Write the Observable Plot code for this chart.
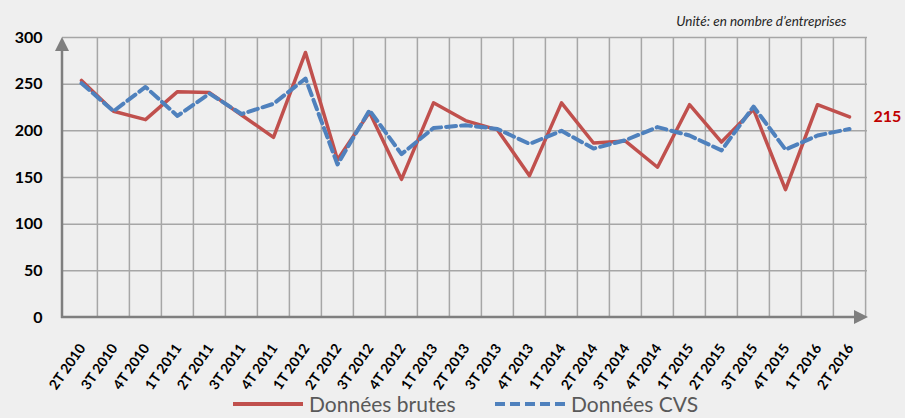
<!DOCTYPE html>
<html>
<head>
<meta charset="utf-8">
<script src="https://cdn.jsdelivr.net/npm/d3@7"></script>
<script src="https://cdn.jsdelivr.net/npm/@observablehq/plot@0.6"></script>
<style>
  html, body { margin: 0; padding: 0; background: #efefef; width: 905px; height: 418px; overflow: hidden; }
  #wrap { position: relative; width: 905px; height: 418px; font-family: Lato, "Open Sans", sans-serif; }
  .leg { position: absolute; top: 392px; display: flex; align-items: center; font-size: 21px; line-height: 24px; color: #595959; white-space: nowrap; }
  .leg svg { margin-right: 6px; }
</style>
</head>
<body>
<div id="wrap"></div>
<script>
const quarters = ["2T 2010","3T 2010","4T 2010","1T 2011","2T 2011","3T 2011","4T 2011","1T 2012","2T 2012","3T 2012","4T 2012","1T 2013","2T 2013","3T 2013","4T 2013","1T 2014","2T 2014","3T 2014","4T 2014","1T 2015","2T 2015","3T 2015","4T 2015","1T 2016","2T 2016"];
const brutes = [254, 221, 212, 242, 241, 217, 193, 284, 169, 220, 148, 230, 211, 201, 152, 230, 187, 189, 161, 228, 188, 223, 137, 228, 215];
const cvs    = [251, 221, 247, 216, 240, 218, 229, 256, 164, 222, 175, 203, 206, 202, 186, 200, 181, 190, 204, 195, 179, 226, 180, 195, 202];
const yTicks = [0, 50, 100, 150, 200, 250, 300];
const legendLabels = ["Données brutes", "Données CVS"];
const unitText = "Unité: en nombre d’entreprises";

const rows = quarters.map((q, i) => ({q, brutes: brutes[i], cvs: cvs[i]}));
const last = rows[rows.length - 1];

const red = "#c0504d", blue = "#4f81bd", grid = "#a6a6a6", axisCol = "#7f7f7f";
const W = 905, H = 392, mL = 62, mR = 38, mT = 37, mB = 75;
const half = (W - mL - mR) / quarters.length / 2;

function axesMark(index, scales, values, dims) {
  const g = d3.create("svg:g");
  const x0 = dims.marginLeft, y0 = dims.height - dims.marginBottom;
  const top = dims.marginTop, right = dims.width - dims.marginRight;
  g.append("line").attr("x1", x0).attr("x2", x0).attr("y1", y0 + 1).attr("y2", top + 12)
    .attr("stroke", axisCol).attr("stroke-width", 2.5);
  g.append("path").attr("d", `M${x0},${top} L${x0 - 7},${top + 14} L${x0 + 7},${top + 14} Z`).attr("fill", axisCol);
  g.append("line").attr("x1", x0 - 1).attr("x2", right - 10).attr("y1", y0).attr("y2", y0)
    .attr("stroke", axisCol).attr("stroke-width", 2.5);
  g.append("path").attr("d", `M${right + 1},${y0} L${right - 13},${y0 - 7} L${right - 13},${y0 + 7} Z`).attr("fill", axisCol);
  return g.node();
}

const chart = Plot.plot({
  width: W, height: H,
  marginLeft: mL, marginRight: mR, marginTop: mT, marginBottom: mB,
  style: {background: "transparent", fontFamily: "Lato, 'Open Sans', sans-serif", overflow: "visible"},
  x: {type: "point", domain: quarters, padding: 0.5, label: null},
  y: {domain: [0, 300], label: null},
  marks: [
    Plot.ruleY(yTicks.slice(1), {stroke: grid, strokeWidth: 1.5}),
    Plot.ruleX(quarters.slice(1), {stroke: grid, strokeWidth: 1.5, dx: -half}),
    Plot.ruleX([quarters[quarters.length - 1]], {stroke: grid, strokeWidth: 1.5, dx: half}),
    Plot.axisY({ticks: yTicks, tickSize: 0, tickPadding: 20, fontSize: 16, fontWeight: "bold", fill: "#000"}),
    Plot.axisX({tickSize: 0, tickRotate: -55, tickPadding: 28, fontSize: 14, fontWeight: "bold", fill: "#000", dx: 1}),
    axesMark,
    Plot.line(rows, {x: "q", y: "brutes", stroke: red, strokeWidth: 3.5}),
    Plot.line(rows, {x: "q", y: "cvs", stroke: blue, strokeWidth: 4, strokeDasharray: "10,5"}),
    Plot.text([last], {x: "q", y: "brutes", text: d => String(d.brutes), dx: 24, textAnchor: "start", fontSize: 16, fontWeight: "bold", fill: "#c00000"}),
    Plot.text([unitText], {frameAnchor: "top-right", dx: -21, dy: -12, lineAnchor: "bottom", textAnchor: "end", fontSize: 13.5, fontStyle: "italic", fill: "#262626"})
  ]
});

const wrap = document.getElementById("wrap");
wrap.appendChild(chart);

function legendItem(left, label, color, dash) {
  const d = document.createElement("div");
  d.className = "leg";
  d.style.left = left + "px";
  d.innerHTML = `<svg width="70" height="8"><line x1="0" x2="70" y1="4" y2="4" stroke="${color}" stroke-width="4" ${dash ? 'stroke-dasharray="10,5"' : ""}/></svg><span>${label}</span>`;
  wrap.appendChild(d);
}
legendItem(233, legendLabels[0], red, false);
legendItem(495, legendLabels[1], blue, true);
</script>
</body>
</html>
